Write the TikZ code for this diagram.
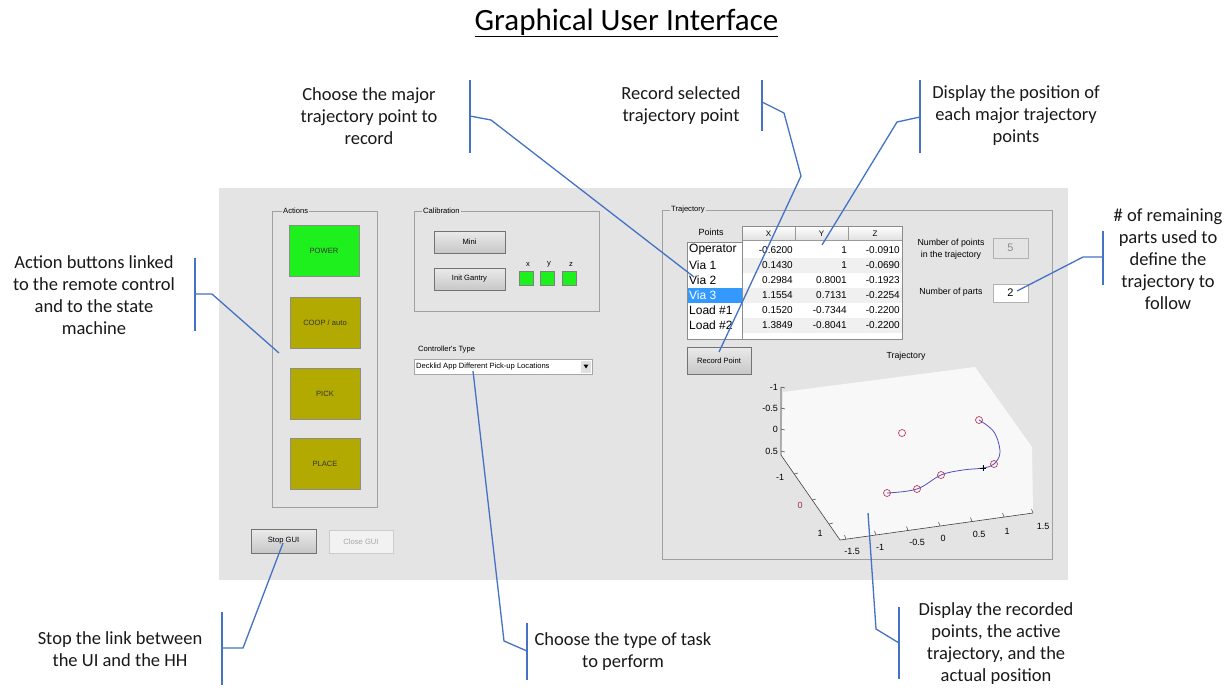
\documentclass[tikz,border=0pt]{standalone}
\usepackage{fontspec}
\setmainfont{Carlito}
\newfontfamily\guifont{Liberation Sans}
\usetikzlibrary{calc}

\definecolor{panelgray}{RGB}{228,228,228}
\definecolor{framegray}{RGB}{160,160,160}
\definecolor{powergreen}{RGB}{30,240,30}
\definecolor{olivebtn}{RGB}{178,170,0}
\definecolor{leaderblue}{RGB}{68,114,196}
\definecolor{selblue}{RGB}{51,153,255}
\definecolor{markred}{RGB}{190,60,90}
\definecolor{curveblue}{RGB}{80,80,190}
\definecolor{rowgray}{RGB}{240,240,240}
\definecolor{plotwhite}{RGB}{248,248,248}

\newcommand\widgetfont{\guifont\fontsize{7.6}{9}\selectfont}

\tikzset{
  callout/.style={font=\fontsize{18.5}{22}\selectfont, align=center, text=black!90},
  bracketline/.style={draw=leaderblue, line width=2pt},
  leader/.style={draw=leaderblue, line width=1.3pt},
  groupframe/.style={draw=framegray, line width=0.8pt},
  grouptitle/.style={font=\widgetfont, fill=panelgray, inner xsep=1pt, inner ysep=0pt, anchor=west},
  actionbtn/.style={draw=black!45, line width=0.8pt, minimum width=70pt, minimum height=51pt, font=\widgetfont, text=black!80},
  pushbtn/.style={draw=black!55, line width=0.7pt, top color=white!92!black, bottom color=black!22, font=\widgetfont},
  lamp/.style={draw=black!50, fill=powergreen, minimum width=14pt, minimum height=14pt, inner sep=0pt},
  cell/.style={font=\guifont\fontsize{10}{12}\selectfont, anchor=east, inner sep=0pt},
  item/.style={font=\guifont\fontsize{12}{14}\selectfont, anchor=west, inner sep=0pt},
  tick/.style={font=\guifont\fontsize{9}{10}\selectfont, inner sep=0pt},
  ptmark/.style={draw=markred, line width=0.7pt},
}

\begin{document}
\begin{tikzpicture}[x=1pt, y=-1pt]
\useasboundingbox (0,0) rectangle (1230,689);
\fill[white] (0,0) rectangle (1230,689);

% Title
\node[font=\fontsize{31}{36}\selectfont] (title) at (626.5,23) {\underline{Graphical User Interface}};

% Window background
\fill[panelgray] (219,188) rectangle (1068,580);

% ---------------- Actions group ----------------
\draw[groupframe] (272,211) rectangle (377,507);
\node[grouptitle] (actTitle) at (282,211) {Actions};
\node[actionbtn, fill=powergreen] (power) at (324,250.5) {POWER};
\node[actionbtn, fill=olivebtn] (coop) at (325,322.5) {COOP / auto};
\node[actionbtn, fill=olivebtn] (pick) at (325,393.5) {PICK};
\node[actionbtn, fill=olivebtn] (place) at (325,464) {PLACE};

% ---------------- Calibration group ----------------
\draw[groupframe] (414,211) rectangle (599,311);
\node[grouptitle] (calTitle) at (422,211) {Calibration};
\node[pushbtn, minimum width=71pt, minimum height=22pt] (mini) at (469.5,242) {Mini};
\node[pushbtn, minimum width=71pt, minimum height=22pt] (gantry) at (469.5,279) {Init Gantry};
\node[font=\widgetfont] (lx) at (528,264) {x};
\node[font=\widgetfont] (ly) at (549,264) {y};
\node[font=\widgetfont] (lz) at (571,264) {z};
\node[lamp] (lampx) at (526.5,278) {};
\node[lamp] (lampy) at (547.5,278) {};
\node[lamp] (lampz) at (569,278) {};

% ---------------- Controller type ----------------
\node[font=\widgetfont, anchor=west, inner sep=0pt] (ctlLabel) at (418,350) {Controller's Type};
\node[draw=black!35, fill=white, minimum width=178pt, minimum height=15pt, inner sep=0pt] (ctlBox) at (503,366.5) {};
\node[font=\widgetfont, anchor=west, inner sep=0pt] (ctlText) at (416,367) {Decklid App Different Pick-up Locations};
\fill[black!12] (581,360.5) rectangle (591,373);
\fill[black] (583.5,364.5) -- (588.5,364.5) -- (586,368.5) -- cycle;

% ---------------- Bottom buttons ----------------
\node[pushbtn, minimum width=65pt, minimum height=24pt] (stopgui) at (283.5,541) {Stop GUI};
\node[draw=black!20, fill=black!5, minimum width=64pt, minimum height=23pt, font=\widgetfont, text=black!35] (closegui) at (361,541.5) {Close GUI};

% ---------------- Trajectory group ----------------
\draw[groupframe] (662,210) rectangle (1052,559);
\node[grouptitle] (trajTitle) at (670,210) {Trajectory};
\node[font=\guifont\fontsize{9}{10}\selectfont] (ptsLabel) at (711,232) {Points};

% list box
\draw[draw=black!45, fill=white] (687,242) rectangle (742,339);
\fill[selblue] (687.5,287.5) rectangle (742,302.5);
\node[item] (iOp) at (689,250) {Operator};
\node[item] (iV1) at (689,265) {Via 1};
\node[item] (iV2) at (689,280) {Via 2};
\node[item, text=white] (iV3) at (689,295) {Via 3};
\node[item] (iL1) at (689,310) {Load \#1};
\node[item] (iL2) at (689,325) {Load \#2};

% table
\fill[white] (742,226) rectangle (902,339);
\foreach \r in {1,3,5} {
  \fill[rowgray] (743,242.5+15*\r) rectangle (901.5,257.5+15*\r);
}
\shade[top color=white, bottom color=black!12] (742,226) rectangle (902,240);
\draw[black!40] (742,240) -- (902,240);
\draw[black!40] (795,226) -- (795,240);
\draw[black!40] (848,226) -- (848,240);
\draw[black!45] (742,226) rectangle (902,339);
\node[font=\guifont\fontsize{8}{9}\selectfont] (hX) at (768.5,233.5) {X};
\node[font=\guifont\fontsize{8}{9}\selectfont] (hY) at (821.5,233.5) {Y};
\node[font=\guifont\fontsize{8}{9}\selectfont] (hZ) at (875,233.5) {Z};
\foreach \y/\a/\b/\c [count=\i] in {250/-0.6200/1/-0.0910, 265/0.1430/1/-0.0690, 280/0.2984/0.8001/-0.1923, 295/1.1554/0.7131/-0.2254, 310/0.1520/-0.7344/-0.2200, 325/1.3849/-0.8041/-0.2200} {
  \node[cell] (c\i a) at (793,\y) {\a};
  \node[cell] (c\i b) at (847,\y) {\b};
  \node[cell] (c\i c) at (900,\y) {\c};
}

% counters
\node[font=\guifont\fontsize{8.8}{12}\selectfont, align=center] (nptsLabel) at (951,249) {Number of points\\in the trajectory};
\node[draw=black!30, fill=panelgray, minimum width=35pt, minimum height=20pt, font=\guifont\fontsize{11}{12}\selectfont, text=black!45] (nptsBox) at (1010.5,248) {5};
\node[font=\guifont\fontsize{8.8}{12}\selectfont] (npartsLabel) at (951,292) {Number of parts};
\node[draw=black!30, fill=white, minimum width=35pt, minimum height=18pt, font=\guifont\fontsize{11}{12}\selectfont] (npartsBox) at (1010.5,293) {2};

\node[pushbtn, minimum width=64pt, minimum height=27pt] (recpt) at (719,360.5) {Record Point};

% ---------------- 3D plot ----------------
\node[font=\guifont\fontsize{8.8}{10}\selectfont] (plotTitle) at (906,356) {Trajectory};
\fill[plotwhite] (783,392) -- (975,367) -- (1032,447) -- (1033,513) -- (840,540) -- (781,455) -- cycle;
\draw[black!75, line width=0.6pt] (781,387) -- (781,455) -- (840,540) -- (1033,513);
% vertical axis
\foreach \y/\t in {387/-1, 408/-0.5, 429/0, 451/0.5} {
  \draw[black!75, line width=0.5pt] (781,\y) -- (785,\y+1);
  \node[tick, anchor=east] at (778,\y) {\t};
}
% depth axis
\foreach \x/\y in {794/474, 812/500, 829/524} {
  \draw[black!75, line width=0.5pt] (\x,\y) -- (\x+4,\y-1);
}
\node[tick] (dA) at (780,477) {-1};
\node[tick, text=markred!80!black] (dB) at (800,505) {0};
\node[tick] (dC) at (820,533) {1};
% horizontal axis
\foreach \x/\t/\lx/\ly in {846/-1.5/852/551, 876/-1/880/547, 908/-0.5/917/542, 940/0/943/538, 972/0.5/979/534, 1004/1/1007/531, 1033/1.5/1043/526} {
  \draw[black!75, line width=0.5pt] (\x,{540-(\x-840)*27/193}) -- (\x-1.5,{540-(\x-840)*27/193-4});
  \node[tick] at (\lx,\ly) {\t};
}
% trajectory curve and recorded points
\draw[curveblue, line width=0.8pt] plot[smooth, tension=0.6] coordinates {(887,493) (917,489) (941,475) (963,470) (983,468) (994,464) (1000,452) (994,432) (979,420)};
\foreach \px/\py [count=\k] in {902/433, 979/420, 994/464, 941/475, 917/489, 887/493} {
  \draw[ptmark] (\px,\py) circle (3.5pt);
  \coordinate (pt\k) at (\px,\py);
}
\draw[black, line width=1pt] (980,468) -- (986,468) (983,465) -- (983,471);

% ---------------- Callouts ----------------
% choose the major point
\node[callout] (cChoose) at (369,116) {Choose the major\\trajectory point to\\record};
\coordinate (bChooseT) at (470,80);
\coordinate (bChooseB) at (470,153);
\coordinate (bChooseM) at (470,116);
\coordinate (kChoose) at (491,120);
\coordinate (tChoose) at (694,277);
\draw[bracketline] (bChooseT) -- (bChooseB);
\draw[leader] (bChooseM) -- (kChoose) -- (tChoose);

% record selected point
\node[callout] (cRecord) at (681,106) {Record selected\\trajectory point};
\coordinate (bRecordT) at (762,80);
\coordinate (bRecordB) at (762,131);
\coordinate (bRecordM) at (762,102);
\coordinate (kRecord1) at (784,113);
\coordinate (kRecord2) at (801,176);
\coordinate (tRecord) at (719,352);
\draw[bracketline] (bRecordT) -- (bRecordB);
\draw[leader] (bRecordM) -- (kRecord1) -- (kRecord2) -- (tRecord);

% display positions
\node[callout] (cDisplay) at (1016,116) {Display the position of\\each major trajectory\\points};
\coordinate (bDisplayT) at (920,80);
\coordinate (bDisplayB) at (920,153);
\coordinate (bDisplayM) at (920,117);
\coordinate (kDisplay) at (897,122);
\coordinate (tDisplay) at (822,245);
\draw[bracketline] (bDisplayT) -- (bDisplayB);
\draw[leader] (bDisplayM) -- (kDisplay) -- (tDisplay);

% action buttons
\node[callout] (cAction) at (94,295) {Action buttons linked\\to the remote control\\and to the state\\machine};
\coordinate (bActionT) at (195,258);
\coordinate (bActionB) at (195,331);
\coordinate (bActionM) at (195,294);
\coordinate (kAction) at (212,294);
\coordinate (tAction) at (279,353);
\draw[bracketline] (bActionT) -- (bActionB);
\draw[leader] (bActionM) -- (kAction) -- (tAction);

% remaining parts
\node[callout] (cParts) at (1168,259) {\# of remaining\\parts used to\\define the\\trajectory to\\follow};
\coordinate (bPartsT) at (1103,231);
\coordinate (bPartsB) at (1103,285);
\coordinate (bPartsM) at (1103,257);
\coordinate (kParts) at (1083,257);
\coordinate (tParts) at (1017,291);
\draw[bracketline] (bPartsT) -- (bPartsB);
\draw[leader] (bPartsM) -- (kParts) -- (tParts);

% stop link
\node[callout] (cStop) at (120,649) {Stop the link between\\the UI and the HH};
\coordinate (bStopT) at (222,612);
\coordinate (bStopB) at (222,685);
\coordinate (bStopM) at (222,648);
\coordinate (kStop) at (243,648);
\coordinate (tStop) at (283,543);
\draw[bracketline] (bStopT) -- (bStopB);
\draw[leader] (bStopM) -- (kStop) -- (tStop);

% task type
\node[callout] (cTask) at (623,652) {Choose the type of task\\to perform};
\coordinate (bTaskT) at (527,623);
\coordinate (bTaskB) at (527,680);
\coordinate (bTaskM) at (527,651);
\coordinate (kTask) at (504,641);
\coordinate (tTask) at (473,371);
\draw[bracketline] (bTaskT) -- (bTaskB);
\draw[leader] (bTaskM) -- (kTask) -- (tTask);

% recorded points display
\node[callout] (cPlot) at (996,644) {Display the recorded\\points, the active\\trajectory, and the\\actual position};
\coordinate (bPlotT) at (899,607);
\coordinate (bPlotB) at (899,679);
\coordinate (bPlotM) at (899,643);
\coordinate (kPlot) at (876,629);
\coordinate (tPlot) at (868,513);
\draw[bracketline] (bPlotT) -- (bPlotB);
\draw[leader] (bPlotM) -- (kPlot) -- (tPlot);
\end{tikzpicture}
\end{document}
